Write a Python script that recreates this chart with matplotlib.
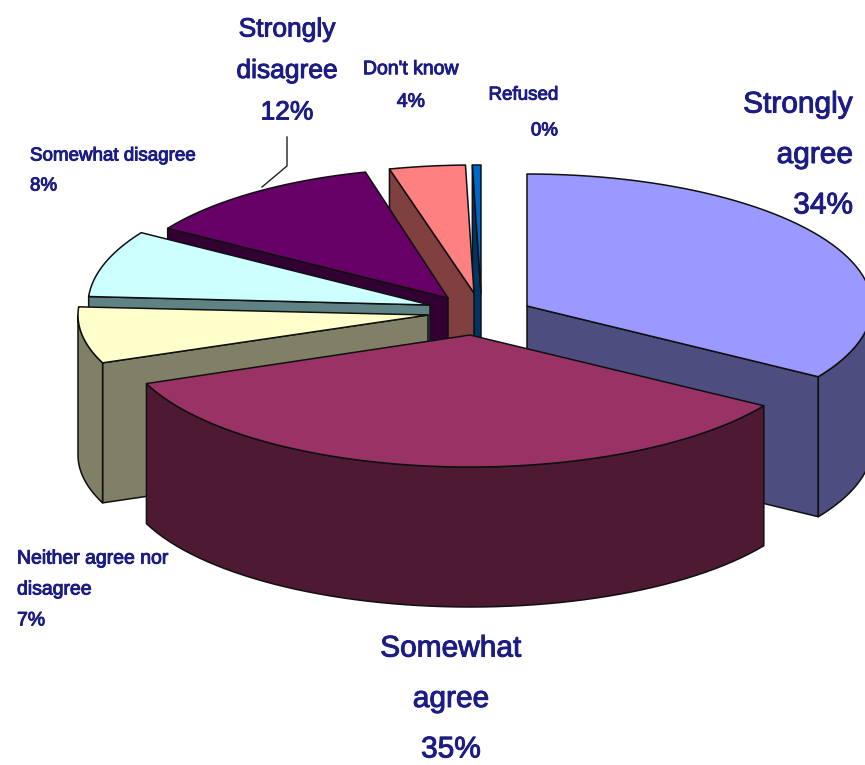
import numpy as np
import matplotlib
matplotlib.use('Agg')
import matplotlib.pyplot as plt
from matplotlib.patches import Polygon
import matplotlib.patheffects as pe

# survey answers, clockwise from 12 o'clock
labels = ['Strongly\nagree', 'Somewhat\nagree', 'Neither agree nor\ndisagree', 'Somewhat disagree',
          'Strongly\ndisagree', "Don't know", 'Refused']
values = [34, 35, 7, 8, 12, 3.6, 0.4]  # printed rounded on the chart

top_colors = ['#9999ff', '#993366', '#ffffcc', '#ccffff', '#660066', '#ff8080', '#0066cc']
wall_colors = ['#4d4d80', '#4d1933', '#808066', '#5f8285', '#330033', '#804040', '#003366']

# exploded apex of every slice and its ellipse radii, in pixels
apex_x = [527, 470, 428, 430, 448, 474, 481]
apex_y = [306, 335, 315, 305, 298, 293, 293]
rad_x = [345, 348, 350, 342, 332, 340, 345]
rad_y = [132, 132, 130, 135, 130, 128, 128]
depth = 140

# order in which the slices get painted, back to front
draw_order = [6, 5, 4, 3, 2, 0, 1]

navy = '#1c1c84'
font = 'Liberation Sans'

fig = plt.figure(figsize=(8.65, 7.65), dpi=100)
ax = fig.add_axes([0, 0, 1, 1])
ax.set_xlim(0, 865)
ax.set_ylim(765, 0)
ax.axis('off')

edges = np.radians(np.cumsum([0] + values) * 360.0 / sum(values))


def rim(i, t0, t1):
    t = np.linspace(t0, t1, 60)
    return np.column_stack([apex_x[i] + rad_x[i] * np.sin(t), apex_y[i] - rad_y[i] * np.cos(t)])


def face(pts, color, z):
    ax.add_patch(Polygon(pts, closed=True, fc=color, ec='#101010', lw=1.1, zorder=z, joinstyle='round'))


for z, i in enumerate(draw_order):
    t0, t1 = edges[i], edges[i + 1]
    apex = np.array([apex_x[i], apex_y[i]])
    down = np.array([0, depth])
    # cut side facing the viewer
    if t1 < np.pi:
        p = rim(i, t1, t1)[0]
        face([apex, p, p + down, apex + down], wall_colors[i], z * 10)
    elif t0 >= np.pi:
        p = rim(i, t0, t0)[0]
        face([apex, p, p + down, apex + down], wall_colors[i], z * 10)
    # outer rim, only the front half shows
    a, b = max(t0, np.pi / 2), min(t1, 3 * np.pi / 2)
    if a < b:
        r = rim(i, a, b)
        face(np.vstack([r, (r + down)[::-1]]), wall_colors[i], z * 10 + 1)
    face(np.vstack([apex, rim(i, t0, t1)]), top_colors[i], z * 10 + 2)

# leader line for the strongly disagree label
ax.plot([287, 287, 262], [137, 166, 187], color='#202020', lw=1.0, zorder=200)


def label(i, x, y, size, ha, spacing):
    t = ax.text(x, y, '%s\n%d%%' % (labels[i], round(values[i])), color=navy, fontsize=size, family=font,
                ha=ha, va='center', multialignment=ha, linespacing=spacing, zorder=300)
    t.set_path_effects([pe.withStroke(linewidth=0.7, foreground=navy)])


label(0, 853, 155, 21.5, 'right', 2.02)
label(1, 451, 699, 21.5, 'center', 2.02)
label(2, 17, 590, 14, 'left', 2.07)
label(3, 30, 171, 13.5, 'left', 2.0)
label(4, 287, 71, 19, 'center', 1.92)
label(5, 411, 86, 14, 'center', 2.2)
label(6, 558, 113, 13.5, 'right', 2.44)

fig.savefig('out.png', dpi=100)
